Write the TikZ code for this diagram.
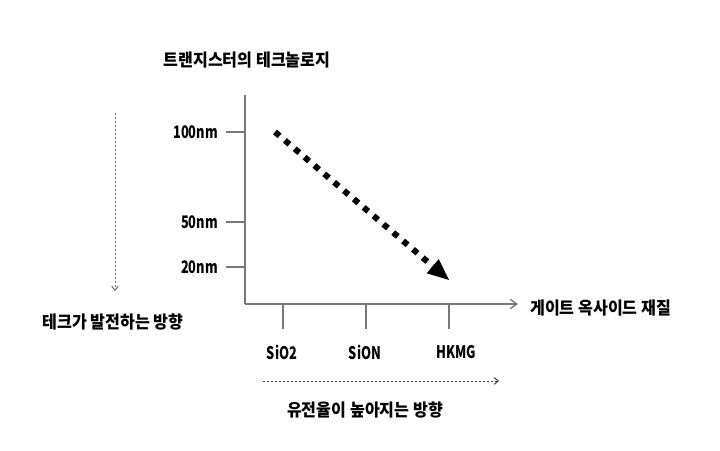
\documentclass[tikz,border=0pt]{standalone}
\usepackage{fontspec}
\setmainfont{Noto Sans CJK KR}[FakeStretch=0.93]
\newfontfamily\unitfont{Noto Sans CJK KR}[FakeStretch=0.74]
\usepackage{tikz}
\usetikzlibrary{arrows.meta,positioning}
\definecolor{axisGray}{RGB}{120,120,120}
\definecolor{guideGray}{RGB}{110,110,110}
\definecolor{guideDark}{RGB}{60,60,60}

\begin{document}
\begin{tikzpicture}[x=0.75pt, y=-0.75pt,
        lbl/.style={font=\bfseries\fontsize{13}{15}\selectfont, inner sep=0pt},
        unit/.style={font=\unitfont\bfseries\fontsize{13}{15}\selectfont, inner sep=0pt},
        axis/.style={draw=axisGray, line width=1pt},
        guide/.style={line width=0.75pt, dash pattern=on 1.8pt off 1.2pt,
          -{Straight Barb[length=3pt,width=5pt]}},
        >=Stealth
      ]
        \useasboundingbox (0,0) rectangle (720,450);

        \node[lbl] (title) at (247,60) {트랜지스터의 테크놀로지};

        % Axes
        \coordinate (origin) at (245,304);
        \coordinate (ytop) at (245,95);
        \coordinate (xend) at (518,304);
        \draw[axis] (ytop) -- (origin);
        \draw[axis, -{Straight Barb[length=5pt,width=7pt]}] (origin) -- (xend);
        \node[lbl, right] (xlab) at (530,308) {게이트 옥사이드 재질};

        % Ticks on the size axis
        \node[unit, left] (n100) at (218,132) {100nm};
        \coordinate (t100a) at (226,132);
        \coordinate (t100b) at (245,132);
        \draw[axis] (t100a) -- (t100b);

        \node[unit, left] (n50) at (218,222) {50nm};
        \coordinate (t50a) at (226,222);
        \coordinate (t50b) at (245,222);
        \draw[axis] (t50a) -- (t50b);

        \node[unit, left] (n20) at (218,267) {20nm};
        \coordinate (t20a) at (226,267);
        \coordinate (t20b) at (245,267);
        \draw[axis] (t20a) -- (t20b);

        % Ticks on the material axis
        \coordinate (sioa) at (283,304);
        \coordinate (siob) at (283,329);
        \draw[axis] (sioa) -- (siob);
        \node[unit] (sio2) at (282,352) {SiO2};

        \coordinate (siona) at (366,304);
        \coordinate (sionb) at (366,329);
        \draw[axis] (siona) -- (sionb);
        \node[unit] (sion) at (365,352) {SiON};

        \coordinate (hkmga) at (449,304);
        \coordinate (hkmgb) at (449,329);
        \draw[axis] (hkmga) -- (hkmgb);
        \node[unit] (hkmg) at (456,352) {HKMG};

        % Trend arrow
        \coordinate (trendA) at (275,132);
        \coordinate (trendB) at (449,280);
        \draw[line width=4.5pt, dash pattern=on 4.5pt off 5.2pt,
          -{Triangle[length=16pt,width=14pt,line width=0pt]}] (trendA) -- (trendB);

        % Direction hints
        \coordinate (techA) at (115,113);
        \coordinate (techB) at (115,291);
        \draw[guide, guideGray] (techA) -- (techB);
        \node[lbl] (tech) at (113,322) {테크가 발전하는 방향};

        \coordinate (kA) at (263,381);
        \coordinate (kB) at (499,381);
        \draw[guide, guideDark] (kA) -- (kB);
        \node[lbl] (kdir) at (365,410) {유전율이 높아지는 방향};
      \end{tikzpicture}
\end{document}
